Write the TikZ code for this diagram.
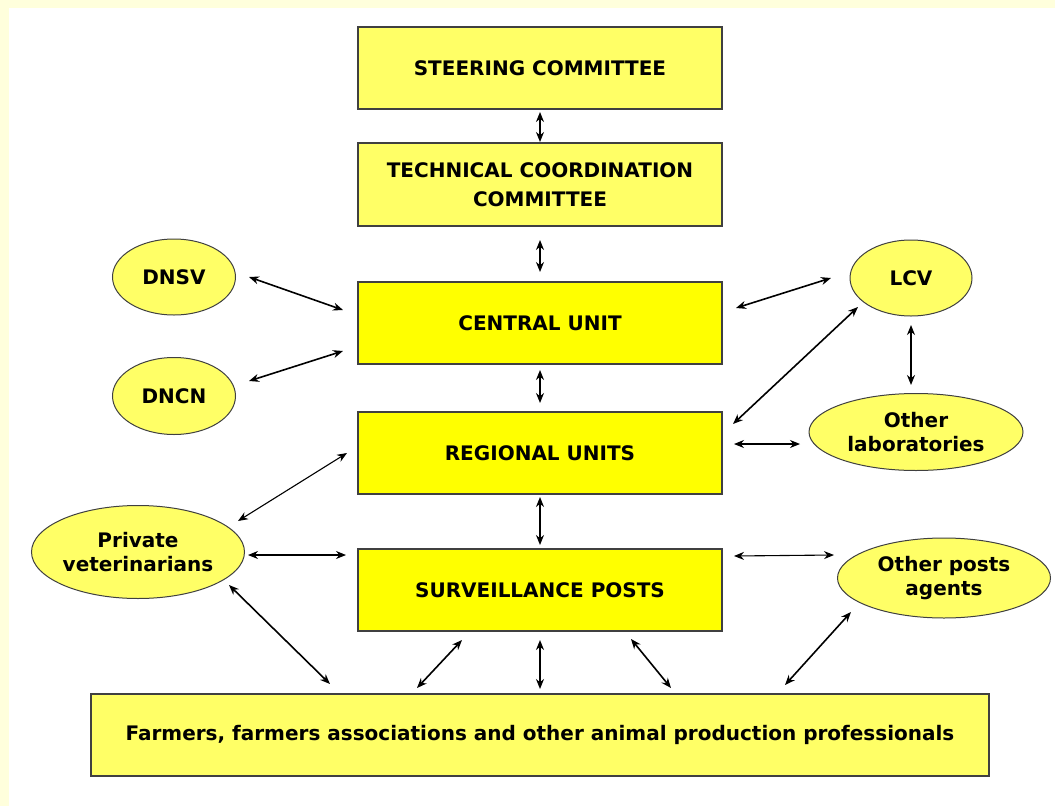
\documentclass[tikz,border=0pt]{standalone}
\usepackage{fontspec}
\setmainfont{DejaVu Sans}
\usetikzlibrary{arrows.meta,shapes.geometric}
\definecolor{paleyel}{HTML}{FFFFDC}
\definecolor{lightyel}{HTML}{FFFF66}
\definecolor{brightyel}{HTML}{FFFF00}
\definecolor{edgegray}{HTML}{404040}
\tikzset{
  lbox/.style={draw=edgegray, line width=1.5pt, fill=lightyel, minimum width=364pt, minimum height=82pt, inner sep=0pt, align=center, font=\fontsize{20}{29}\selectfont\bfseries},
  bbox/.style={lbox, fill=brightyel},
  oval/.style={draw=edgegray, line width=1pt, fill=lightyel, ellipse, inner sep=0pt, align=center, font=\fontsize{20}{24}\selectfont\bfseries},
  link/.style={line width=1.6pt, black, {Stealth[length=10pt,width=8pt]}-{Stealth[length=10pt,width=8pt]}},
  thin link/.style={link, line width=1.1pt}
}
\begin{document}
\begin{tikzpicture}[x=1pt,y=-1pt]
\fill[paleyel] (0,0) rectangle (1055,806);
\fill[white] (9,8) rectangle (1055,806);
\useasboundingbox (0,0) rectangle (1055,806);

\node[lbox] (steer) at (540,68) {STEERING COMMITTEE};
\node[lbox, minimum height=83pt] (tech) at (540,184.5) {TECHNICAL COORDINATION\\COMMITTEE};
\node[bbox] (central) at (540,323) {CENTRAL UNIT};
\node[bbox] (regional) at (540,453) {REGIONAL UNITS};
\node[bbox] (surv) at (540,590) {SURVEILLANCE POSTS};
\node[lbox, minimum width=898pt] (farm) at (540,735) {Farmers, farmers associations and other animal production professionals};

\node[oval, minimum width=123pt, minimum height=76pt] (dnsv) at (174,277) {DNSV};
\node[oval, minimum width=123pt, minimum height=77pt] (dncn) at (174,396) {DNCN};
\node[oval, minimum width=122pt, minimum height=76pt] (lcv) at (911,278) {LCV};
\node[oval, minimum width=214pt, minimum height=77pt] (olab) at (916,432) {Other\\laboratories};
\node[oval, minimum width=213pt, minimum height=93pt] (pvet) at (138,552) {Private\\veterinarians};
\node[oval, minimum width=213pt, minimum height=80pt] (opost) at (944,578) {Other posts\\agents};

% free ends of connectors
\coordinate (a1) at (540,112); \coordinate (a2) at (540,142);
\coordinate (b1) at (540,240); \coordinate (b2) at (540,272);
\coordinate (c1) at (249,277); \coordinate (c2) at (343,310);
\coordinate (d1) at (249,381); \coordinate (d2) at (343,351);
\coordinate (e1) at (736,308); \coordinate (e2) at (831,278);
\coordinate (f1) at (733,424); \coordinate (f2) at (858,307);
\coordinate (g1) at (911,325); \coordinate (g2) at (911,385);
\coordinate (h1) at (540,370); \coordinate (h2) at (540,403);
\coordinate (i1) at (734,444); \coordinate (i2) at (800,444);
\coordinate (j1) at (347,453); \coordinate (j2) at (238,521);
\coordinate (k1) at (540,497); \coordinate (k2) at (540,545);
\coordinate (l1) at (248,555); \coordinate (l2) at (346,555);
\coordinate (m1) at (734,556); \coordinate (m2) at (834,555);
\coordinate (n1) at (229,585); \coordinate (n2) at (330,684);
\coordinate (o1) at (462,640); \coordinate (o2) at (417,688);
\coordinate (p1) at (540,640); \coordinate (p2) at (540,689);
\coordinate (q1) at (631,639); \coordinate (q2) at (671,688);
\coordinate (r1) at (851,612); \coordinate (r2) at (785,685);

\draw[link] (a1) -- (a2);
\draw[link] (b1) -- (b2);
\draw[link] (c1) -- (c2);
\draw[link] (d1) -- (d2);
\draw[link] (e1) -- (e2);
\draw[link] (f1) -- (f2);
\draw[link] (g1) -- (g2);
\draw[link] (h1) -- (h2);
\draw[thin link] (i1) -- (i2);
\draw[thin link] (j1) -- (j2);
\draw[link] (k1) -- (k2);
\draw[thin link] (l1) -- (l2);
\draw[thin link] (m1) -- (m2);
\draw[link] (n1) -- (n2);
\draw[link] (o1) -- (o2);
\draw[link] (p1) -- (p2);
\draw[link] (q1) -- (q2);
\draw[link] (r1) -- (r2);
\end{tikzpicture}
\end{document}
